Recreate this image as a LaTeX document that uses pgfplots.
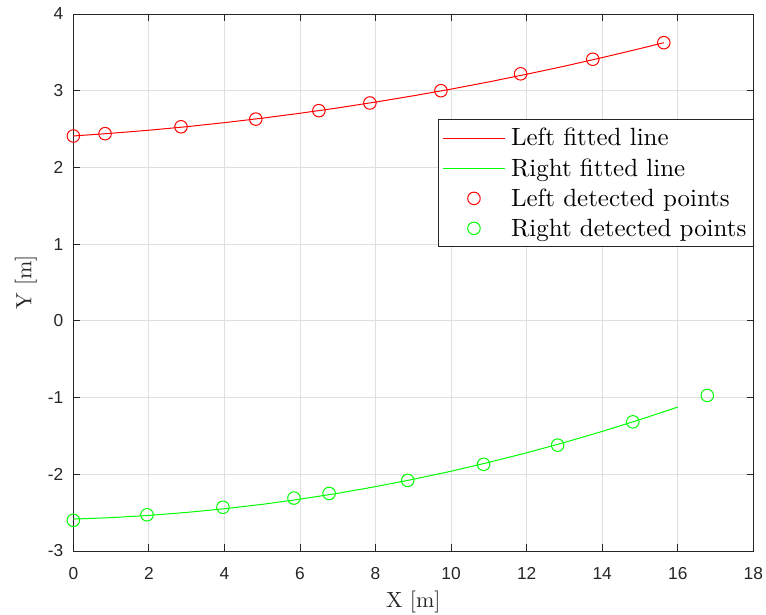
\documentclass[border=0pt]{standalone}
\usepackage{fontspec}
\usepackage{pgfplots}
\pgfplotsset{compat=1.18}
\newfontfamily\ticksf{Liberation Sans}
\newfontfamily\lmten{lmroman10-regular.otf}
\definecolor{axgray}{RGB}{38,38,38}
\definecolor{gridgray}{RGB}{223,223,223}
\pgfplotsset{
  lineleg/.style={legend image code/.code={\draw[##1,draw=#1] (0pt,0pt) -- (46.5pt,0pt);}},
  markleg/.style={legend image code/.code={\draw[mark repeat=2,mark phase=2,##1,draw=#1] plot coordinates {(0pt,0pt) (23.25pt,0pt) (46.5pt,0pt)};}},
}
\begin{document}
\begin{tikzpicture}
\useasboundingbox (-55pt,-47.25pt) rectangle (519.5pt,413.25pt);
\begin{axis}[
  at={(0pt,0pt)}, anchor=south west,
  scale only axis, width=510pt, height=402.75pt,
  xmin=0, xmax=18, ymin=-3, ymax=4,
  xtick={0,2,...,18}, ytick={-3,-2,...,4},
  xticklabels={0,2,4,6,8,10,12,14,16,18},
  yticklabels={-3,-2,-1,0,1,2,3,4},
  grid=major, major grid style={gridgray, line width=0.6pt},
  axis line style={axgray, line width=0.6pt},
  tick style={axgray, line width=0.6pt},
  tick align=inside, major tick length=5pt, tick pos=both,
  ticklabel style={font=\ticksf\fontsize{13}{15}\selectfont, text=axgray},
  xticklabel style={yshift=-9pt},
  yticklabel style={xshift=-4pt},
  xlabel={X [m]}, ylabel={Y [m]},
  label style={font=\lmten\fontsize{16.5}{19}\selectfont, text=axgray},
  xlabel style={at={(axis description cs:0.5,0)}, anchor=base, yshift=-42pt},
  ylabel style={at={(axis description cs:0,0.5)}, anchor=base, yshift=31.5pt},
  legend style={at={(rel axis cs:1,0.804)}, anchor=north east, draw=axgray, line width=0.5pt,
    fill=white, font=\lmten\fontsize{18.7}{22}\selectfont, inner xsep=3pt, inner ysep=4.6pt,
    row sep=3.9pt, column sep=2.2pt, nodes={inner sep=2pt}},
  legend cell align=left,
]
\addplot[red, line width=0.75pt, lineleg=red]
  coordinates {(0,2.410) (1,2.445) (2,2.485) (3,2.531) (4,2.584) (5,2.642) (6,2.706) (7,2.776)
  (8,2.852) (9,2.934) (10,3.021) (11,3.115) (12,3.215) (13,3.320) (14,3.432) (15,3.549) (15.63,3.626)};
\addlegendentry{Left fitted line}
\addplot[green, line width=0.75pt, lineleg=green]
  coordinates {(0,-2.584) (1,-2.565) (2,-2.536) (3,-2.497) (4,-2.449) (5,-2.392) (6,-2.324) (7,-2.248)
  (8,-2.161) (9,-2.065) (10,-1.960) (11,-1.844) (12,-1.720) (13,-1.585) (14,-1.441) (15,-1.287) (16,-1.124)};
\addlegendentry{Right fitted line}
\addplot[red, only marks, mark=o, mark size=4.7pt, line width=0.75pt, markleg=red]
  coordinates {(0,2.41) (0.84,2.44) (2.85,2.53) (4.83,2.63) (6.50,2.74) (7.85,2.84) (9.73,3.00)
  (11.84,3.22) (13.75,3.41) (15.63,3.626)};
\addlegendentry{Left detected points}
\addplot[green, only marks, mark=o, mark size=4.7pt, line width=0.75pt, markleg=green]
  coordinates {(0,-2.60) (1.95,-2.528) (3.96,-2.43) (5.84,-2.31) (6.77,-2.25) (8.85,-2.08)
  (10.86,-1.87) (12.82,-1.62) (14.81,-1.316) (16.78,-0.972)};
\addlegendentry{Right detected points}
\end{axis}
\end{tikzpicture}
\end{document}
